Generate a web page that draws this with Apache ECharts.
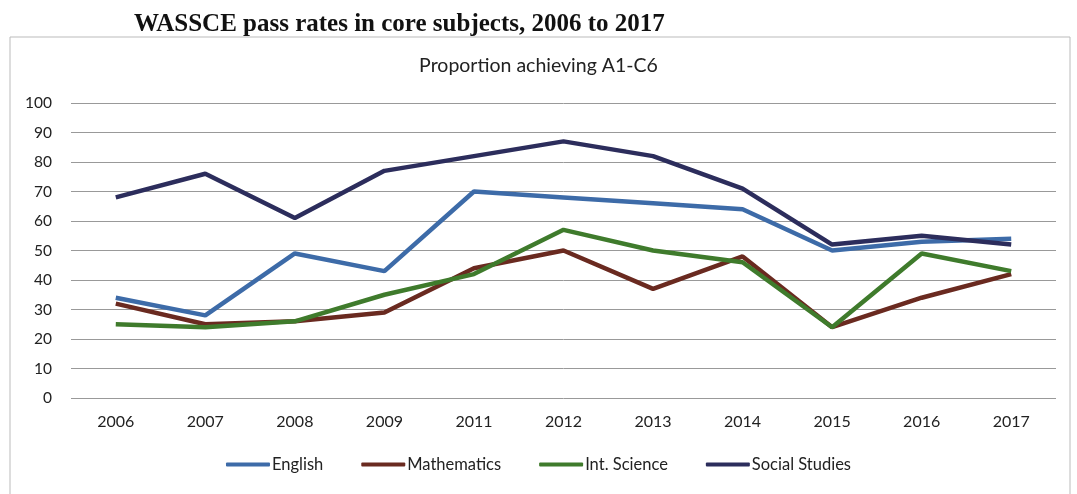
<!DOCTYPE html>
<html><head><meta charset="utf-8">
<script src="https://cdn.jsdelivr.net/npm/echarts@6/dist/echarts.min.js"></script>
<style>html,body{margin:0;padding:0;background:#fff}#c{width:1077px;height:494px}</style>
</head><body><div id="c"></div>
<script>
const years = ['2006','2007','2008','2009','2011','2012','2013','2014','2015','2016','2017'];
const english = [34, 28, 49, 43, 70, 68, 66, 64, 50, 53, 54];
const mathematics = [32, 25, 26, 29, 44, 50, 37, 48, 24, 34, 42];
const intScience = [25, 24, 26, 35, 42, 57, 50, 46, 24, 49, 43];
const socialStudies = [68, 76, 61, 77, 82, 87, 82, 71, 52, 55, 52];
const seriesNames = ['English','Mathematics','Int. Science','Social Studies'];
const colors = ['#3d6ba8','#6a2a20','#3f7b2c','#2c2d5c'];

const chart = echarts.init(document.getElementById('c'));
const dataSets = [english, mathematics, intScience, socialStudies];
chart.setOption({
  animation: false,
  color: colors,
  title: [
    {text: 'WASSCE pass rates in core subjects, 2006 to 2017', left: 129, top: 7,
     textStyle: {fontFamily: 'Liberation Serif', fontWeight: 'bold', fontSize: 25, color: '#111'}},
    {text: 'Proportion achieving A1-C6', left: 'center', top: 51,
     textStyle: {fontFamily: 'Lato', fontWeight: 'normal', fontSize: 19.5, color: '#222'}}
  ],
  graphic: [
    {type: 'rect', shape: {x: 10, y: 37, width: 1060, height: 470}, style: {fill: 'none', stroke: '#bbb', lineWidth: 1}, silent: true}
  ],
  grid: {left: 71, right: 21, top: 103, bottom: 96},
  legend: {
    bottom: 16, left: 'center', itemWidth: 44, itemHeight: 4, itemGap: 38,
    icon: 'roundRect',
    textStyle: {fontFamily: 'Lato', fontSize: 16.5, color: '#222', padding: [0, 0, 0, -3]},
    data: seriesNames
  },
  xAxis: {
    type: 'category', data: years, boundaryGap: true,
    axisLine: {show: false}, axisTick: {show: false},
    axisLabel: {margin: 16, fontFamily: 'Lato', fontSize: 16, color: '#222'}
  },
  yAxis: {
    type: 'value', min: 0, max: 100, interval: 10,
    axisLine: {show: false}, axisTick: {show: false},
    axisLabel: {margin: 19, fontFamily: 'Lato', fontSize: 15.5, color: '#222'},
    splitLine: {lineStyle: {color: '#999', width: 1}}
  },
  series: dataSets.map((d, i) => ({
    name: seriesNames[i], type: 'line', data: d, symbol: 'none',
    lineStyle: {width: 4.5, color: colors[i]}
  }))
});
</script></body></html>
